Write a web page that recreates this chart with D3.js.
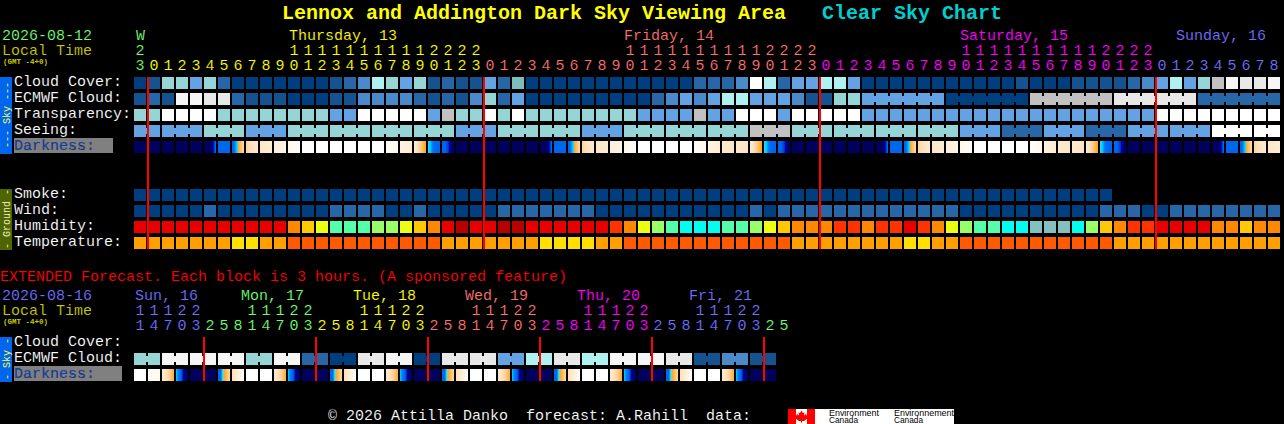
<!DOCTYPE html>
<html><head><meta charset="utf-8">
<script src="https://cdn.jsdelivr.net/npm/d3@7/dist/d3.min.js"></script>
<style>
html,body{margin:0;padding:0;background:#000;overflow:hidden}
svg{display:block}
text{font-family:"Liberation Mono",monospace;font-size:15px;white-space:pre}
text.thin{stroke:#000;stroke-width:.12px}
</style></head><body>
<script>
// ---------- DATA ----------
const titleMain = "Lennox and Addington Dark Sky Viewing Area";
const titleChart = "Clear Sky Chart";
const hourTicks = [23,0,1,2,3,4,5,6,7,8,9,10,11,12,13,14,15,16,17,18,19,20,21,22,23,0,1,2,3,4,5,6,7,8,9,10,11,12,13,14,15,16,17,18,19,20,21,22,23,0,1,2,3,4,5,6,7,8,9,10,11,12,13,14,15,16,17,18,19,20,21,22,23,0,1,2,3,4,5,6,7,8];
const dayNames = ["W","Thursday, 13","Friday, 14","Saturday, 15","Sunday, 16"];
const extHourTicks = [11,14,17,20,23,2,5,8,11,14,17,20,23,2,5,8,11,14,17,20,23,2,5,8,11,14,17,20,23,2,5,8,11,14,17,20,23,2,5,8,11,14,17,20,23,2,5];
const extDayNames = ["Sun, 16","Mon, 17","Tue, 18","Wed, 19","Thu, 20","Fri, 21"];
const skyLabels = ["Cloud Cover:","ECMWF Cloud:","Transparency:","Seeing:"];
const groundLabels = ["Smoke:","Wind:","Humidity:","Temperature:"];
const cloudCover = [0,10,50,50,40,50,20,0,0,0,0,0,0,0,10,20,30,60,50,40,50,10,20,10,10,40,20,45,0,0,0,0,0,0,0,0,0,0,0,0,20,20,20,30,100,60,20,40,40,60,60,40,0,0,0,0,0,0,0,0,0,0,0,10,0,0,0,10,10,10,10,20,30,40,60,40,50,70,90,80,80,90];
const ecmwfCloud = [10,20,10,90,90,80,80,20,10,10,10,0,0,0,10,10,30,30,30,30,20,10,20,10,30,50,20,40,0,0,0,0,0,0,0,0,0,20,30,40,30,40,60,60,40,40,40,30,10,10,50,50,40,40,40,40,40,40,0,0,0,0,0,0,70,70,70,70,70,70,80,80,80,80,80,80,20,20,20,20,20,20];
const transparency = [50,50,100,100,100,100,50,50,50,50,50,50,50,50,40,40,100,100,100,100,100,40,70,50,50,100,50,100,50,50,50,50,50,50,50,50,40,40,40,40,70,40,40,100,100,100,40,100,100,100,100,100,40,40,40,40,40,40,40,40,40,40,40,40,40,40,40,40,40,40,40,40,40,100,100,100,100,100,100,100,100,100];
const seeingBlocks = [40,40,50,40,50,50,50,50,40,50,50,40,50,50,50,70,50,50,50,50,40,20,40,20,40,40,100,100];
const smoke = [0,0,0,0,0,0,0,0,0,0,0,0,0,0,0,0,0,0,0,0,0,0,0,0,0,0,0,0,0,0,0,0,0,0,0,0,0,0,0,0,0,0,0,0,0,0,0,0,0,0,0,0,0,0,0,0,0,0,0,0,0,0,0,0,0,0,0,0,0,0];
const wind = [0,0,0,0,0,20,0,0,0,0,0,0,0,0,20,20,20,20,0,0,20,0,0,0,0,0,20,20,20,20,20,20,20,0,0,0,0,0,0,0,0,0,0,0,20,0,20,20,20,20,20,20,20,20,20,20,20,20,20,0,0,0,0,0,0,0,0,0,0,20,20,20,0,0,20,20,20,20,20,20,20,20];
const humidity = [95,95,95,95,95,95,95,95,95,95,95,85,80,75,65,65,65,70,70,75,80,85,95,100,95,95,100,100,95,95,95,95,95,95,90,85,75,70,65,60,60,60,65,65,70,75,80,85,85,85,90,90,85,90,90,95,90,85,75,70,65,65,60,60,55,55,55,60,70,80,85,90,90,95,95,95,95,85,85,80,85,85];
const temperature = [20,20,20,20,20,20,20,18,18,20,20,24,24,24,24,24,24,24,24,24,24,24,20,20,20,20,20,20,20,18,18,18,18,20,20,24,24,24,24,24,24,24,24,24,24,24,24,20,20,20,20,20,20,20,20,18,18,20,20,24,24,24,24,24,24,24,24,24,24,24,20,20,20,20,20,20,20,20,20,20,20,20];
// darkness: 0 = full daylight ... 100 = full night; each cell lists readings across its width
const Nt=[96], Gm=[96,96,96,96,90,84,76,70], Bl=[70], Dw=[70,70,64,60,48,44,40,34], C1=[36,30,27,25], C2=[26,22], C3=[20,15], C4=[10,6], Wh=[0], E1=[4,10], E2=[15,22], E3=[24,28], E4=[24,30,36,44,50], Du=[58,62,68,70,70,70], Dk=[70,70,74,84,94];
const darkness = [Nt,Nt,Nt,Nt,Nt,Gm,Bl,Dw,C1,C2,C3,C4,Wh,Wh,Wh,Wh,Wh,Wh,E1,E2,E4,Du,Dk,Nt,Nt,Nt,Nt,Nt,Nt,Gm,Bl,Dw,C1,C2,C3,C4,Wh,Wh,Wh,Wh,E1,E2,E3,E3,E4,Du,Dk,Nt,Nt,Nt,Nt,Nt,Nt,Gm,Bl,Dw,C1,C2,C3,C4,Wh,Wh,Wh,Wh,E1,E2,E3,E3,E4,Du,Dk,Nt,Nt,Nt,Nt,Nt,Nt,Gm,Bl,Dw,C1,C2];
const extEcmwfBlocks = [50,90,90,90,50,90,20,0,80,90,0,80,80,40,60,80,60,90,90,80,10,30,10];
const XD=[70,70,56,48,42,36], XC=[30,24,14,6], XE=[24,30,38,48], XN=[62,68,70,78,90,96];
const extDarkness = [Wh,E1,XE,XN,Nt,Nt,XD,XC,Wh,Wh,XE,XN,Nt,Nt,XD,XC,Wh,Wh,XE,XN,Nt,Nt,XD,XC,Wh,Wh,XE,XN,Nt,Nt,XD,XC,Wh,Wh,XE,XN,Nt,Nt,XD,XC,Wh,Wh,XE,XN,Nt,Nt];

// ---------- SCALES / STYLE ----------
const W=1284,H=424;
const svg=d3.select("body").append("svg").attr("width",W).attr("height",H).style("background","#000");
const x=d3.scaleBand().domain(d3.range(82)).range([134,134+14*82-2]).paddingInner(2/14);
const xExt=d3.scaleBand().domain(d3.range(47)).range([134,134+14*47-2]).paddingInner(2/14);
const rowY=d3.scaleOrdinal().domain(["cloud","ecmwf","transp","seeing","dark","smoke","wind","hum","temp","xcloud","xecmwf","xdark"]).range([77,93,109,125,141,189,205,221,237,337,353,369]);
const skyColor=d3.scaleOrdinal().domain([0,10,20,30,40,45,50,60,70,80,90,100]).range(["#003f7f","#14538f","#2767a7","#4a8acb","#63a3e3","#7fbdbd","#95d5d5","#aff0f0","#c1c1c1","#e8e8e8","#f6f6f6","#ffffff"]);
const humColor=d3.scaleOrdinal().domain([100,95,90,85,80,75,70,65,60,55]).range(["#b80000","#e80000","#ff3300","#ff8800","#ffc800","#ecff10","#99ff66","#55ffaa","#00ffee","#85c0c0"]);
const tempColor=d3.scaleOrdinal().domain([24,20,18]).range(["#ff5a00","#ffa000","#ffe000"]);
const darkColor=d3.scaleLinear().domain([0,10,20,30,40,50,54,60,66,70,80,90,100]).range(["#ffffff","#fff8ee","#ffeed8","#ffe2bc","#ffc880","#ffa828","#90d0a0","#00d8ff","#0088ff","#0066ee","#0000a8","#000070","#000050"]).clamp(true);
const dayColors=["#70ff70","#ffff00","#ff7070","#ff00ff","#7070ff"];
const dayStart=[0,1,25,49,73];
const extDayColors=["#7070ff","#70ff70","#ffff00","#ff7070","#ff00ff","#7070ff","#70ff70"];
const extDayStart=[0,5,13,21,29,37,45];
const colorOfCol=(starts,cols,n)=>cols[d3.bisectRight(starts,n)-1];

const T=(s,px,py,fill,extra)=>{const t=svg.append("text").attr("class","thin").attr("x",px).attr("y",py).attr("fill",fill).text(s);if(extra)extra(t);return t;};
const cells=svg.append("g").attr("shape-rendering","crispEdges");

function drawRow(key,vals,color,scale,groupOf){
  const y=rowY(key),h=12,g=cells.append("g");
  g.selectAll("rect.c").data(vals).join("rect").attr("class","c")
    .attr("x",(d,i)=>scale(i)).attr("y",y).attr("width",scale.bandwidth()).attr("height",h)
    .attr("fill",d=>color(d));
  if(groupOf){
    const links=vals.map((d,i)=>i).filter(i=>i<vals.length-1&&groupOf(i)!==null&&groupOf(i)===groupOf(i+1));
    g.selectAll("rect.b").data(links).join("rect").attr("class","b")
      .attr("x",i=>scale(i)+scale.bandwidth()).attr("y",y+3).attr("width",scale.step()-scale.bandwidth()).attr("height",6)
      .attr("fill",i=>color(vals[i]));
  }
}
function drawDark(key,vals,scale){
  const y=rowY(key),g=cells.append("g");
  const bw=Math.round(scale.bandwidth());
  vals.forEach((v,i)=>{
    const pos=d3.scaleLinear().domain(v.length>1?d3.range(v.length).map(k=>k*(bw-1)/(v.length-1)):[0,bw-1]).range(v.length>1?v:[v[0],v[0]]);
    g.selectAll(null).data(d3.range(bw)).join("rect")
      .attr("x",p=>Math.round(scale(i))+p).attr("y",y).attr("width",1).attr("height",12)
      .attr("fill",p=>darkColor(pos(p)));
  });
}

// ---------- TITLE ----------
const bold=t=>t.attr("class",null).style("font-size","20px").style("font-weight","bold");
T(titleMain,282,19,"#ffff00",bold);
T(titleChart,822,19,"#00cfcf",bold);

// ---------- MAIN HEADER ----------
T("2026-08-12",2,40,"#70ff70");
T("Local Time",2,55,"#c8c800");
const small=t=>t.attr("class",null).style("font-size","7.5px").style("font-weight","bold");
T("(GMT -4+0)",3,64,"#c8c800",small);
const dayLabelX=[x(0)+2,x(11)+1,x(35),x(59),1176];
dayNames.forEach((d,i)=>T(d,dayLabelX[i],40,dayColors[i]));
hourTicks.forEach((h,i)=>{
  const c=colorOfCol(dayStart,dayColors,i),cx=x(i)+6;
  if(h>=10) T(String(Math.floor(h/10)),cx,55,c,t=>t.attr("text-anchor","middle"));
  T(String(h%10),cx,70,c,t=>t.attr("text-anchor","middle"));
});

// ---------- MAIN ROWS ----------
drawRow("cloud",cloudCover,skyColor,x);
drawRow("ecmwf",ecmwfCloud,skyColor,x,i=>i>=52?Math.floor((i-52)/6):null);
drawRow("transp",transparency,skyColor,x);
const seeingGroup=i=>Math.floor((i+1)/3);
drawRow("seeing",d3.range(82).map(i=>seeingBlocks[seeingGroup(i)]),skyColor,x,seeingGroup);
drawDark("dark",darkness,x);
drawRow("smoke",smoke,skyColor,x);
drawRow("wind",wind,skyColor,x);
drawRow("hum",humidity,humColor,x);
drawRow("temp",temperature,tempColor,x);

// labels
["cloud","ecmwf","transp","seeing"].forEach((k,i)=>T(skyLabels[i],14,rowY(k)+9,"#fff"));
["smoke","wind","hum","temp"].forEach((k,i)=>T(groundLabels[i],14,rowY(k)+9,"#fff"));
cells.append("rect").attr("x",14).attr("y",138).attr("width",99).attr("height",15).attr("fill","#808080");
T("Darkness:",14,rowY("dark")+9,"#1540a8");

// side bars
cells.append("rect").attr("x",0).attr("y",77).attr("width",12).attr("height",77).attr("fill","#0066ee");
cells.append("rect").attr("x",0).attr("y",189).attr("width",12).attr("height",61).attr("fill","#4f6600");
cells.append("rect").attr("x",0).attr("y",337).attr("width",12).attr("height",45).attr("fill","#0066ee");
const vert=(s,cy,fill)=>svg.append("text").attr("transform",`translate(10,${cy}) rotate(-90)`).attr("text-anchor","middle").attr("fill",fill).style("font-size","10px").text(s);
vert("--- Sky ---",115,"#ffff40");
vert("- Ground -",219,"#f0f0c0");
vert("- Sky -",359,"#ffff40");

// midnight lines
cells.selectAll("rect.m").data([1,25,49,73]).join("rect").attr("class","m")
  .attr("x",n=>x(n)-1).attr("y",77).attr("width",2).attr("height",172).attr("fill","#ff0000");

// ---------- EXTENDED ----------
T("EXTENDED Forecast. Each block is 3 hours. (A sponsored feature)",0,281,"#ff0000");
T("2026-08-16",2,300,"#7070ff");
T("Local Time",2,315,"#c8c800");
T("(GMT -4+0)",3,324,"#c8c800",small);
extDayNames.forEach((d,i)=>T(d,i?241+112*(i-1):135,300,extDayColors[i]));
extHourTicks.forEach((h,i)=>{
  const c=colorOfCol(extDayStart,extDayColors,i),cx=xExt(i)+6;
  if(h>=10) T(String(Math.floor(h/10)),cx,315,c,t=>t.attr("text-anchor","middle"));
  T(String(h%10),cx,330,c,t=>t.attr("text-anchor","middle"));
});
const pair=i=>Math.floor(i/2);
drawRow("xecmwf",d3.range(46).map(i=>extEcmwfBlocks[pair(i)]),skyColor,xExt,pair);
drawDark("xdark",extDarkness,xExt);
T("Cloud Cover:",14,346,"#fff");
T("ECMWF Cloud:",14,362,"#fff");
cells.append("rect").attr("x",14).attr("y",366).attr("width",108).attr("height",15).attr("fill","#808080");
T("Darkness:",14,378,"#1540a8");
cells.selectAll("rect.xm").data([5,13,21,29,37,45]).join("rect").attr("class","xm")
  .attr("x",n=>xExt(n)-1).attr("y",337).attr("width",2).attr("height",44).attr("fill","#ff0000");

// ---------- FOOTER ----------
T("\u00a9 2026 Attilla Danko  forecast: A.Rahill  data:",328,420,"#fff");
const logo=svg.append("g");
logo.append("rect").attr("x",788).attr("y",409).attr("width",166).attr("height",15).attr("fill","#fff").attr("shape-rendering","crispEdges");
logo.append("rect").attr("x",788).attr("y",409).attr("width",8).attr("height",15).attr("fill","#ff0000").attr("shape-rendering","crispEdges");
logo.append("rect").attr("x",807).attr("y",409).attr("width",8).attr("height",15).attr("fill","#ff0000").attr("shape-rendering","crispEdges");
logo.append("path").attr("d","M801.5 410.5l1.5 2.5 1.5-.5-.5 3 2-1.5.5 1.5 1.5-.3-1 2.3.5 1-3.5 2.5h-2v1.5h-1v-1.5h-2l-3.5-2.5.5-1-1-2.3 1.5.3.5-1.5 2 1.5-.5-3 1.5.5z").attr("fill","#ff0000");
const lt=(s,px,py,len)=>logo.append("text").attr("x",px).attr("y",py).attr("fill","#000").attr("textLength",len).attr("lengthAdjust","spacingAndGlyphs").style("font-family","'Liberation Sans',sans-serif").style("font-size","8.5px").text(s);
lt("Environment",829,415.5,50);lt("Canada",829,423,29);
lt("Environnement",894,415.5,60);lt("Canada",894,423,29);
</script></body></html>
